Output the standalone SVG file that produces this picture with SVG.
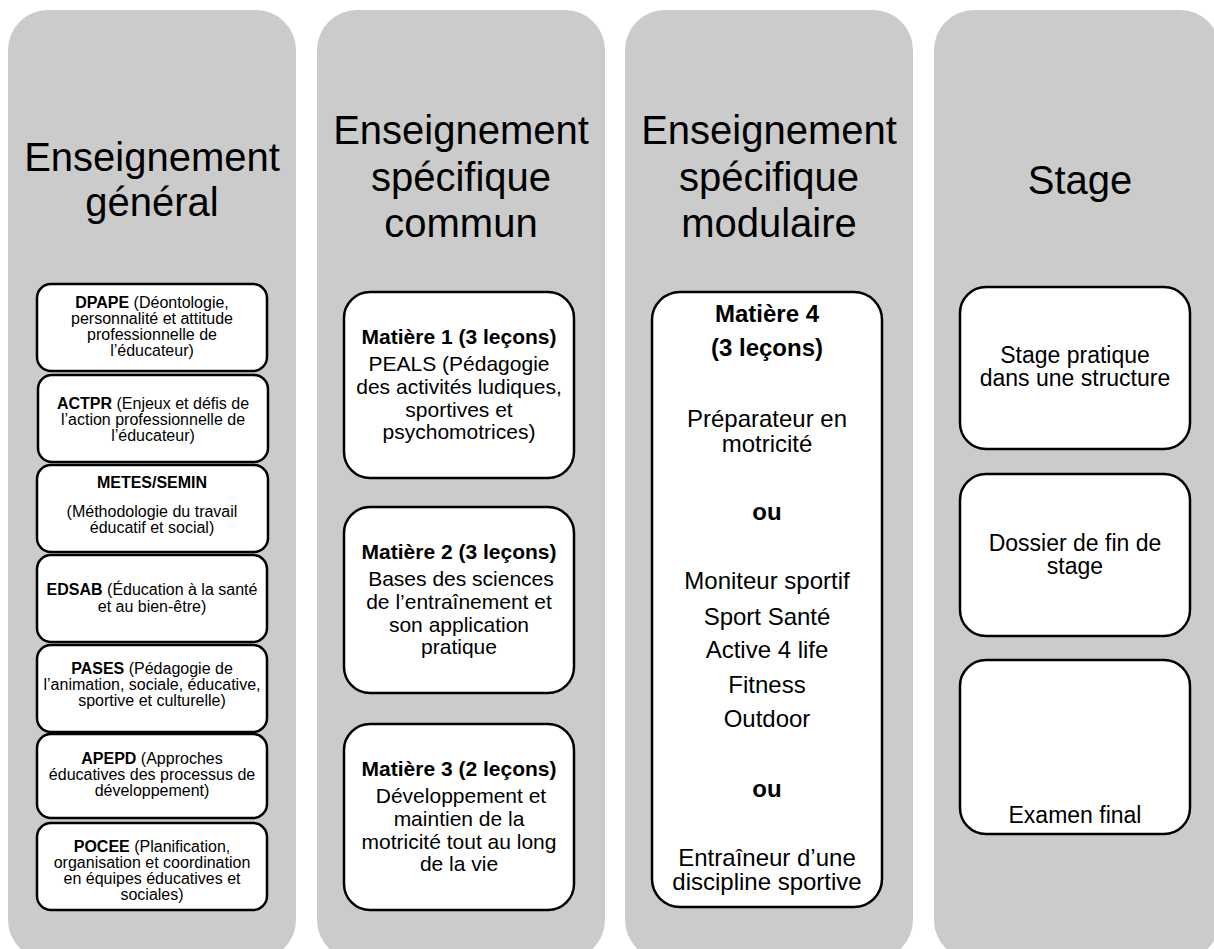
<svg xmlns="http://www.w3.org/2000/svg" width="1214" height="949" viewBox="0 0 1214 949">
<style>
text{font-family:"Liberation Sans",Arial,sans-serif;fill:#000;text-anchor:middle}
.col{fill:#cbcbcb}
.box{fill:#fff;stroke:#000;stroke-width:2.5}
.hd{font-size:40px}
.s1{font-size:16px}
.s2{font-size:21px}
.s3{font-size:24px}
.s4{font-size:23px}
.b{font-weight:bold}
</style>
<g id="col-general">
<rect class="col" x="8" y="10" width="288" height="950" rx="40"/>
<text class="hd" x="152"><tspan x="152" y="171">Enseignement</tspan><tspan x="152" y="216">général</tspan></text>
</g>
<g id="col-commun">
<rect class="col" x="317" y="10" width="288" height="950" rx="40"/>
<text class="hd" x="461"><tspan x="461" y="144">Enseignement</tspan><tspan x="461" y="191">spécifique</tspan><tspan x="461" y="237">commun</tspan></text>
</g>
<g id="col-modulaire">
<rect class="col" x="625" y="10" width="288" height="950" rx="40"/>
<text class="hd" x="769"><tspan x="769" y="144">Enseignement</tspan><tspan x="769" y="191">spécifique</tspan><tspan x="769" y="237">modulaire</tspan></text>
</g>
<g id="col-stage">
<rect class="col" x="934" y="10" width="286" height="950" rx="40"/>
<text class="hd" x="1080" y="194">Stage</text>
</g>

<g id="dpape">
<rect class="box" x="37" y="284" width="230" height="87" rx="14"/>
<text class="s1"><tspan x="152" y="308"><tspan class="b">DPAPE</tspan> (Déontologie,</tspan><tspan x="152" y="324">personnalité et attitude</tspan><tspan x="152" y="340">professionnelle de</tspan><tspan x="152" y="356">l’éducateur)</tspan></text>
</g>
<g id="actpr">
<rect class="box" x="38" y="375" width="230" height="87" rx="14"/>
<text class="s1"><tspan x="153" y="409"><tspan class="b">ACTPR</tspan> (Enjeux et défis de</tspan><tspan x="153" y="425">l’action professionnelle de</tspan><tspan x="153" y="441">l’éducateur)</tspan></text>
</g>
<g id="metes">
<rect class="box" x="37" y="465" width="231" height="87" rx="14"/>
<text class="s1"><tspan x="152" y="488" class="b">METES/SEMIN</tspan><tspan x="152" y="517">(Méthodologie du travail</tspan><tspan x="152" y="533">éducatif et social)</tspan></text>
</g>
<g id="edsab">
<rect class="box" x="37" y="555" width="230" height="87" rx="14"/>
<text class="s1"><tspan x="152" y="595"><tspan class="b">EDSAB</tspan> (Éducation à la santé</tspan><tspan x="152" y="612">et au bien-être)</tspan></text>
</g>
<g id="pases">
<rect class="box" x="37" y="645" width="230" height="87" rx="14"/>
<text class="s1"><tspan x="152" y="674"><tspan class="b">PASES</tspan> (Pédagogie de</tspan><tspan x="152" y="690">l’animation, sociale, éducative,</tspan><tspan x="152" y="706">sportive et culturelle)</tspan></text>
</g>
<g id="apepd">
<rect class="box" x="37" y="734" width="230" height="84" rx="14"/>
<text class="s1"><tspan x="152" y="764"><tspan class="b">APEPD</tspan> (Approches</tspan><tspan x="152" y="780">éducatives des processus de</tspan><tspan x="152" y="796">développement)</tspan></text>
</g>
<g id="pocee">
<rect class="box" x="37" y="823" width="230" height="87" rx="14"/>
<text class="s1"><tspan x="152" y="852"><tspan class="b">POCEE</tspan> (Planification,</tspan><tspan x="152" y="868">organisation et coordination</tspan><tspan x="152" y="884">en équipes éducatives et</tspan><tspan x="152" y="900">sociales)</tspan></text>
</g>

<g id="matiere1">
<rect class="box" x="344" y="292" width="230" height="186" rx="26"/>
<text class="s2"><tspan x="459" y="344" class="b">Matière 1 (3 leçons)</tspan><tspan x="459" y="371">PEALS (Pédagogie</tspan><tspan x="459" y="394">des activités ludiques,</tspan><tspan x="459" y="417">sportives et</tspan><tspan x="459" y="439">psychomotrices)</tspan></text>
</g>
<g id="matiere2">
<rect class="box" x="344" y="507" width="230" height="186" rx="26"/>
<text class="s2"><tspan x="459" y="559" class="b">Matière 2 (3 leçons)</tspan><tspan x="461" y="586">Bases des sciences</tspan><tspan x="459" y="609">de l’entraînement et</tspan><tspan x="459" y="632">son application</tspan><tspan x="459" y="654">pratique</tspan></text>
</g>
<g id="matiere3">
<rect class="box" x="344" y="724" width="230" height="186" rx="26"/>
<text class="s2"><tspan x="459" y="776" class="b">Matière 3 (2 leçons)</tspan><tspan x="461" y="803">Développement et</tspan><tspan x="459" y="826">maintien de la</tspan><tspan x="459" y="849">motricité tout au long</tspan><tspan x="459" y="871">de la vie</tspan></text>
</g>

<g id="matiere4">
<rect class="box" x="652" y="292" width="230" height="615" rx="28"/>
<text class="s3"><tspan x="767" y="322" class="b">Matière 4</tspan><tspan x="767" y="356" class="b">(3 leçons)</tspan><tspan x="767" y="427">Préparateur en</tspan><tspan x="767" y="452">motricité</tspan><tspan x="767" y="520" class="b">ou</tspan><tspan x="767" y="589">Moniteur sportif</tspan><tspan x="767" y="625">Sport Santé</tspan><tspan x="767" y="658">Active 4 life</tspan><tspan x="767" y="693">Fitness</tspan><tspan x="767" y="727">Outdoor</tspan><tspan x="767" y="797" class="b">ou</tspan><tspan x="767" y="866">Entraîneur d’une</tspan><tspan x="767" y="890">discipline sportive</tspan></text>
</g>

<g id="stage-pratique">
<rect class="box" x="960" y="287" width="230" height="162" rx="26"/>
<text class="s4"><tspan x="1075" y="363">Stage pratique</tspan><tspan x="1075" y="386">dans une structure</tspan></text>
</g>
<g id="dossier">
<rect class="box" x="960" y="474" width="230" height="162" rx="26"/>
<text class="s4"><tspan x="1075" y="551">Dossier de fin de</tspan><tspan x="1075" y="574">stage</tspan></text>
</g>
<g id="examen">
<rect class="box" x="960" y="660" width="230" height="174" rx="26"/>
<text class="s4" x="1075" y="823">Examen final</text>
</g>
<g id="connectors"/>
</svg>
